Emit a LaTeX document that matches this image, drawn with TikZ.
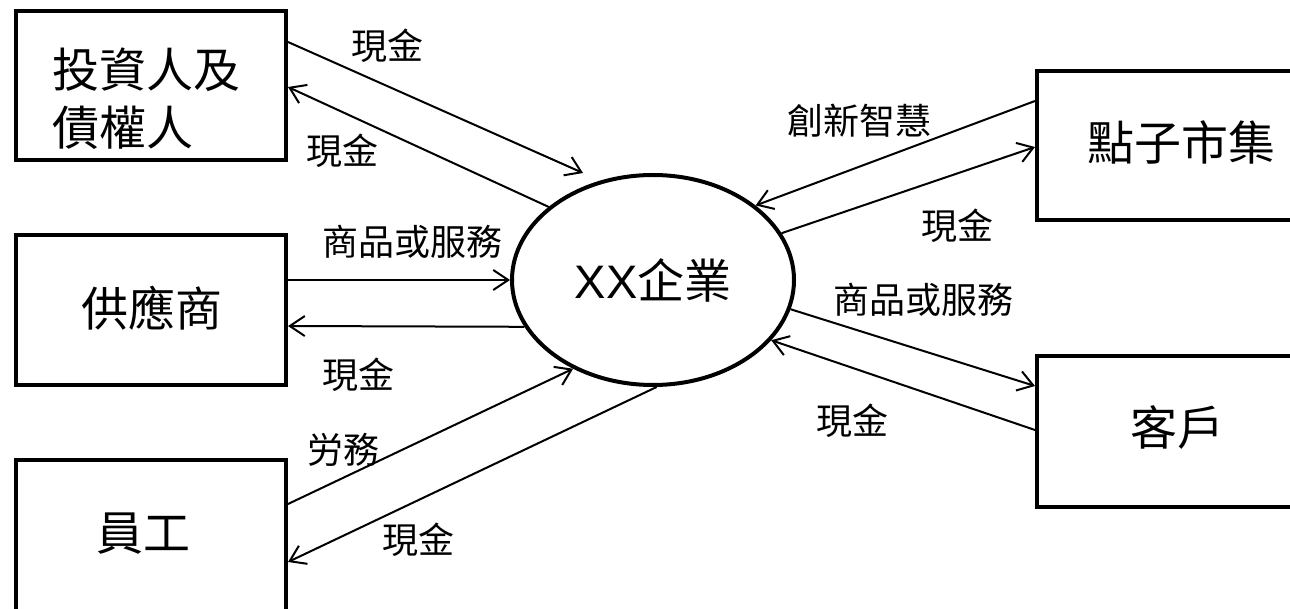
\documentclass[tikz,border=0pt]{standalone}
\usepackage{fontspec}
\setmainfont{Noto Sans CJK TC}
\newfontfamily\latfont{Liberation Sans}
\usetikzlibrary{arrows.meta,shapes.geometric}
\begin{document}
\begin{tikzpicture}[x=1pt,y=-1pt,
  box/.style={draw, line width=4pt, rectangle, inner sep=0pt},
  boxtxt/.style={inner sep=0pt, font=\fontsize{47}{58}\selectfont, align=left},
  lab/.style={inner sep=0pt, font=\fontsize{36}{40}\selectfont},
  flow/.style={line width=2pt, -{Straight Barb[length=15pt,width=20pt]}}]
\path[use as bounding box, fill=white] (0,0) rectangle (1290,609);

% boxes
\node[box, minimum width=270pt, minimum height=149pt] (inv) at (151,85.5) {};
\node[boxtxt] (invt) at (146,98.5) {投資人及\\債權人};
\node[box, minimum width=270pt, minimum height=150pt] (sup) at (151,310) {};
\node[boxtxt] (supt) at (152,308) {供應商};
\node[box, minimum width=270pt, minimum height=153pt] (emp) at (151,536.5) {};
\node[boxtxt] (empt) at (143.5,533.5) {員工};
\node[box, minimum width=288pt, minimum height=149pt] (idea) at (1181,145.5) {};
\node[boxtxt] (ideat) at (1181,142.5) {點子市集};
\node[box, minimum width=288pt, minimum height=151pt] (cus) at (1181,431.5) {};
\node[boxtxt] (cust) at (1177,427.5) {客戶};
\node[ellipse, draw, line width=4pt, minimum width=282pt, minimum height=210pt,
      inner sep=0pt, font=\fontsize{47}{58}\selectfont] (ent) at (653,280) {{\latfont XX}企業};

% connectors
\coordinate (h1) at (583,173);
\draw[flow] ([yshift=-33pt]inv.north east) -- (h1);
\draw[flow] (ent.145) -- ([yshift=-78pt]inv.north east);
\draw[flow] ([yshift=-47pt]sup.north east) -- (ent.west);
\draw[flow] (ent.200) -- ([yshift=-93pt]sup.north east);
\draw[flow] ([yshift=-46pt]emp.north east) -- (ent.228);
\draw[flow] (ent.272) -- ([yshift=-104pt]emp.north east);
\draw[flow] ([yshift=-32pt]idea.north west) -- (ent.36);
\draw[flow] (ent.20) -- ([yshift=-78pt]idea.north west);
\draw[flow] (ent.348) -- ([yshift=-32pt]cus.north west);
\draw[flow] ([yshift=-76pt]cus.north west) -- (ent.333);

% labels
\node[lab] (l1) at (387,46) {現金};
\node[lab] (l2) at (342,151) {現金};
\node[lab] (l3) at (412,242) {商品或服務};
\node[lab] (l4) at (358,375) {現金};
\node[lab] (l5) at (343,450) {労務};
\node[lab] (l6) at (418,540) {現金};
\node[lab] (l7) at (859,121) {創新智慧};
\node[lab] (l8) at (957,226) {現金};
\node[lab] (l9) at (923,300) {商品或服務};
\node[lab] (l10) at (852,421) {現金};
\end{tikzpicture}
\end{document}
